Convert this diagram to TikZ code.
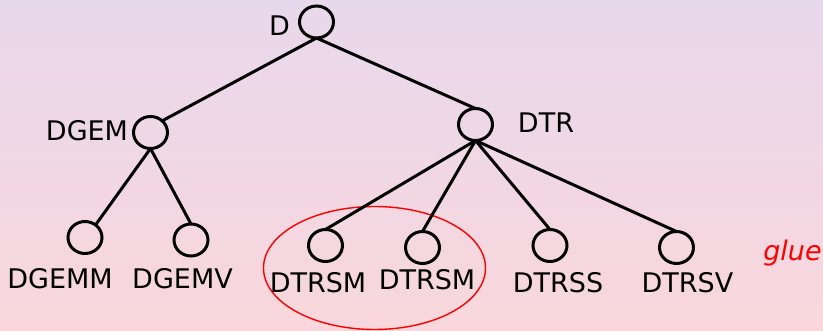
\documentclass[tikz,border=0pt]{standalone}
\usepackage{fontspec}
\setmainfont{DejaVu Sans}
\usetikzlibrary{shapes.geometric}
\definecolor{bgtop}{RGB}{232,216,236}
\definecolor{bgbottom}{RGB}{249,215,220}
\tikzset{
  leaf/.style={draw=black, ellipse, line width=3pt, inner sep=0pt, outer sep=0pt,
    minimum width=34pt, minimum height=32pt},
  lbl/.style={inner sep=0pt, font=\fontsize{27}{31}\selectfont},
  edge/.style={draw=black, line width=3pt},
  group/.style={draw=red, ellipse, line width=1.4pt, inner sep=0pt,
    minimum width=222pt, minimum height=123pt}
}
\begin{document}
\begin{tikzpicture}[x=1pt, y=-1pt]
  % background gradient
  \shade[top color=bgtop, bottom color=bgbottom] (0,0) rectangle (823,331);
  \useasboundingbox (0,0) rectangle (823,331);

  % grouping ring around the two DTRSM calls
  \node[group] (grp) at (374.5,268) {};

  % tree nodes
  \node[leaf] (D)      at (316.5,22) {};
  \node[leaf] (DGEM)   at (150.5,132.5) {};
  \node[leaf] (DTR)    at (475.5,124.5) {};
  \node[leaf] (DGEMM)  at (85,237.5) {};
  \node[leaf] (DGEMV)  at (191,240) {};
  \node[leaf] (DTRSMa) at (325.5,245.5) {};
  \node[leaf] (DTRSMb) at (422.5,247.5) {};
  \node[leaf] (DTRSS)  at (550,245.5) {};
  \node[leaf] (DTRSV)  at (676.5,247.5) {};

  % labels
  \node[lbl] (tD)      at (279.5,25.5) {D};
  \node[lbl] (tDGEM)   at (87,130.5) {DGEM};
  \node[lbl] (tDTR)    at (546,123) {DTR};
  \node[lbl] (tDGEMM)  at (60,278.5) {DGEMM};
  \node[lbl] (tDGEMV)  at (182.5,278.5) {DGEMV};
  \node[lbl] (tDTRSMa) at (318,283) {DTRSM};
  \node[lbl] (tDTRSMb) at (427,280) {DTRSM};
  \node[lbl] (tDTRSS)  at (558,282.5) {DTRSS};
  \node[lbl] (tDTRSV)  at (687.5,283) {DTRSV};
  \node[lbl, text=red, font=\fontsize{27}{31}\selectfont\itshape] (tglue) at (792.5,253) {glue};

  % connectors
  \draw[edge] (D.south) -- (DGEM.45);
  \draw[edge] (D.south) -- (DTR.north);
  \draw[edge] (DGEM.south) -- (DGEMM.50);
  \draw[edge] (DGEM.south) -- (DGEMV.north);
  \draw[edge] (DTR.south) -- (DTRSMa.north);
  \draw[edge] (DTR.south) -- (DTRSMb.north);
  \draw[edge] (DTR.south) -- (DTRSS.north);
  \draw[edge] (DTR.south) -- (DTRSV.north);
\end{tikzpicture}
\end{document}
